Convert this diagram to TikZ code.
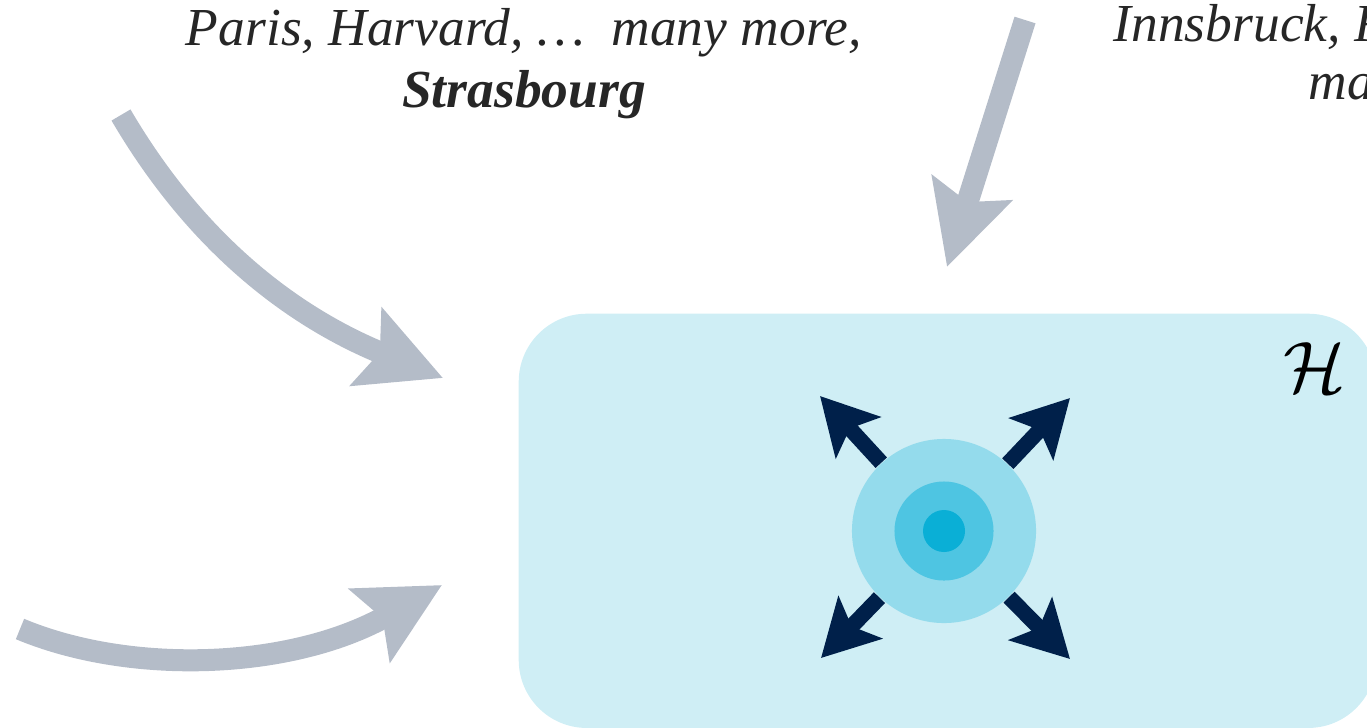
\documentclass[tikz,border=0pt]{standalone}
\usepackage{fontspec}
\setmainfont{Liberation Serif}
\usetikzlibrary{arrows.meta,positioning}
\definecolor{hullfill}{HTML}{CFEEF5}
\definecolor{flowgray}{HTML}{B4BCC8}
\definecolor{spreadnavy}{HTML}{00204A}
\definecolor{ringouter}{HTML}{94DBEC}
\definecolor{ringmid}{HTML}{4EC5E2}
\definecolor{ringcore}{HTML}{0AAFD6}
\begin{document}
\begin{tikzpicture}[x=0.01cm,y=-0.01cm,
  flow/.style={-{Stealth[length=0.82cm,width=0.82cm,inset=0.14cm]},line width=0.22cm,draw=flowgray},
  spread/.style={-{Stealth[length=0.56cm,width=0.6cm,inset=0.12cm]},line width=0.155cm,draw=spreadnavy},
  ring/.style={circle,inner sep=0pt,draw=none},
  place/.style={font=\fontsize{15.2}{17.5}\selectfont\itshape,text=black!85,align=center,inner sep=0pt}]
\useasboundingbox (0,0) rectangle (1367,727);
\node[fill=hullfill,rounded corners=0.68cm,minimum width=8.57cm,minimum height=4.14cm,
  anchor=north west,inner sep=0pt] (hull) at (518,313) {};
\node[font=\fontsize{20}{20}\selectfont] (hlabel) at (1315,368) {$\mathcal{H}$};
\node[ring,fill=ringouter,minimum size=1.84cm] (outer) at (944,531) {};
\node[ring,fill=ringmid,minimum size=0.99cm] (mid) at (outer.center) {};
\node[ring,fill=ringcore,minimum size=0.42cm] (core) at (outer.center) {};
\coordinate (nw) at (820,396);
\coordinate (ne) at (1070,398);
\coordinate (sw) at (821,658);
\coordinate (se) at (1070,659);
\foreach \c in {nw,ne,sw,se}
  \draw[spread] (outer) -- (\c);
\node[place,anchor=north] (west) at (524,8) {Paris, Harvard, …\ \ many more,\\ \textbf{Strasbourg}};
\node[place,anchor=base west] (eastA) at (1113,41) {Innsbruck, F};
\node[place,anchor=base west] (eastB) at (1308,99) {ma};
\coordinate (tailA) at (121,115);
\coordinate (headA) at (443,378);
\coordinate (tailB) at (20,629);
\coordinate (headB) at (442,585);
\coordinate (tailC) at (1025,20);
\coordinate (headC) at (947,267);
\draw[flow] (tailA) .. controls (200,250) and (300,320) .. (headA);
\draw[flow] (tailB) .. controls (130,675) and (290,670) .. (headB);
\draw[flow] (tailC) -- (headC);
\end{tikzpicture}
\end{document}
